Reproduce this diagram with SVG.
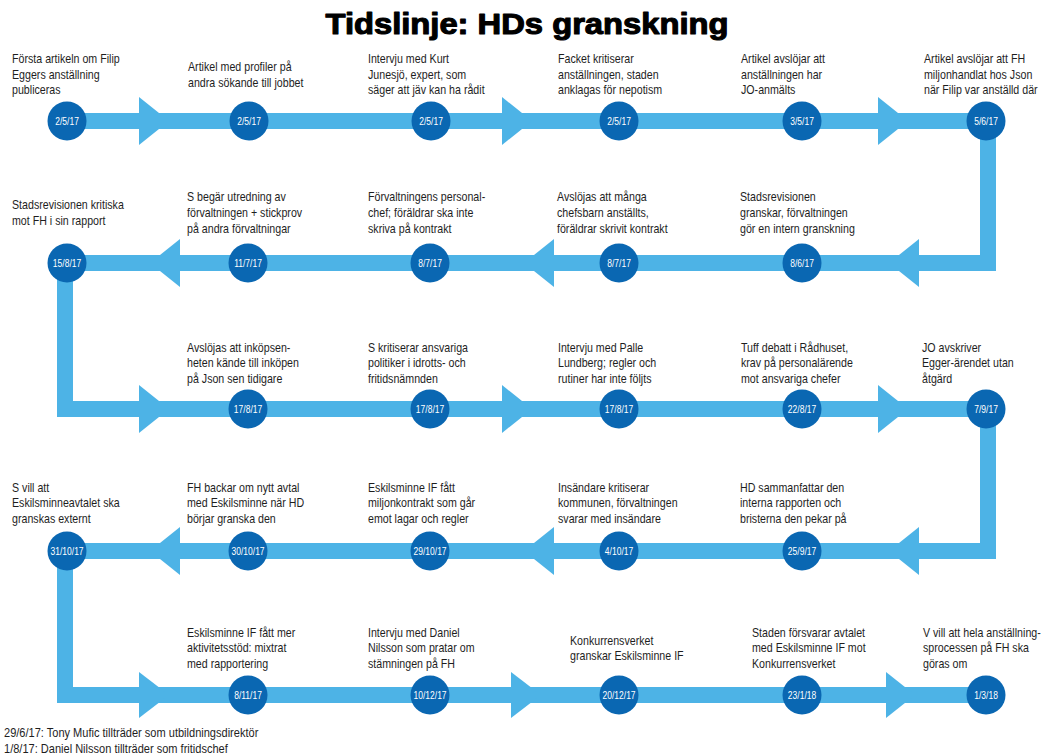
<svg xmlns="http://www.w3.org/2000/svg" width="1046" height="756" viewBox="0 0 1046 756">
<style>
.t{font-family:"Liberation Sans Narrow","Liberation Sans",Arial,sans-serif;font-size:13px;fill:#1e1e1e;transform:scaleX(0.82);transform-box:fill-box;transform-origin:0 0}
.f{font-family:"Liberation Sans",Arial,sans-serif;font-size:13px;fill:#1e1e1e;transform:scaleX(0.85);transform-box:fill-box;transform-origin:0 0}
.d{font-family:"Liberation Sans",Arial,sans-serif;font-size:11.5px;fill:#ffffff;text-anchor:middle;transform:scaleX(0.74);transform-box:fill-box;transform-origin:50% 50%}
.c{fill:#0A67B2}
.band{fill:none;stroke:#4DB3E6;stroke-width:16;stroke-linejoin:miter}
.ah{fill:#4DB3E6}
.title{font-family:"Liberation Sans",Arial,sans-serif;font-weight:900;font-size:29px;fill:#000;stroke:#000;stroke-width:1.1;stroke-linejoin:round;text-anchor:middle}
</style>
<rect width="1046" height="756" fill="#ffffff"/>
<text class="title" x="527" y="34" textLength="403" lengthAdjust="spacingAndGlyphs">Tidslinje: HDs granskning</text>
<g id="connectors">
<path class="band" d="M67,121 H988 V263 H65 V409 H988 V551 H65 V695 H986"/>
<polygon class="ah" points="139,97 169,121 139,145"/>
<polygon class="ah" points="502,97 532,121 502,145"/>
<polygon class="ah" points="878,97 908,121 878,145"/>
<polygon class="ah" points="180,239 150,263 180,287"/>
<polygon class="ah" points="554,239 524,263 554,287"/>
<polygon class="ah" points="919,239 889,263 919,287"/>
<polygon class="ah" points="139,385 169,409 139,433"/>
<polygon class="ah" points="502,385 532,409 502,433"/>
<polygon class="ah" points="878,385 908,409 878,433"/>
<polygon class="ah" points="180,527 150,551 180,575"/>
<polygon class="ah" points="554,527 524,551 554,575"/>
<polygon class="ah" points="919,527 889,551 919,575"/>
<polygon class="ah" points="139,672 169,695 139,718"/>
<polygon class="ah" points="511,672 541,695 511,718"/>
<polygon class="ah" points="886,672 915,695 886,718"/>
</g>
<g id="e01"><circle class="c" cx="67" cy="121" r="19.5"/><text class="d" x="67" y="125">2/5/17</text><text class="t" x="12" y="63.1">Första artikeln om Filip</text><text class="t" x="12" y="78.8">Eggers anställning</text><text class="t" x="12" y="94.5">publiceras</text></g>
<g id="e02"><circle class="c" cx="249" cy="121" r="19.5"/><text class="d" x="249" y="125">2/5/17</text><text class="t" x="188" y="71">Artikel med profiler på</text><text class="t" x="188" y="86.7">andra sökande till jobbet</text></g>
<g id="e03"><circle class="c" cx="431" cy="121" r="19.5"/><text class="d" x="431" y="125">2/5/17</text><text class="t" x="368" y="63.1">Intervju med Kurt</text><text class="t" x="368" y="78.8">Junesjö, expert, som</text><text class="t" x="368" y="94.5">säger att jäv kan ha rådit</text></g>
<g id="e04"><circle class="c" cx="619" cy="121" r="19.5"/><text class="d" x="619" y="125">2/5/17</text><text class="t" x="558" y="63.1">Facket kritiserar</text><text class="t" x="558" y="78.8">anställningen, staden</text><text class="t" x="558" y="94.5">anklagas för nepotism</text></g>
<g id="e05"><circle class="c" cx="802" cy="121" r="19.5"/><text class="d" x="802" y="125">3/5/17</text><text class="t" x="741" y="63.1">Artikel avslöjar att</text><text class="t" x="741" y="78.8">anställningen har</text><text class="t" x="741" y="94.5">JO-anmälts</text></g>
<g id="e06"><circle class="c" cx="986" cy="121" r="19.5"/><text class="d" x="986" y="125">5/6/17</text><text class="t" x="924" y="63.1">Artikel avslöjar att FH</text><text class="t" x="924" y="78.8">miljonhandlat hos Json</text><text class="t" x="924" y="94.5">när Filip var anställd där</text></g>
<g id="e07"><circle class="c" cx="802" cy="263" r="19.5"/><text class="d" x="802" y="267">8/6/17</text><text class="t" x="740" y="201.3">Stadsrevisionen</text><text class="t" x="740" y="217">granskar, förvaltningen</text><text class="t" x="740" y="232.7">gör en intern granskning</text></g>
<g id="e08"><circle class="c" cx="619" cy="263" r="19.5"/><text class="d" x="619" y="267">8/7/17</text><text class="t" x="557" y="201.3">Avslöjas att många</text><text class="t" x="557" y="217">chefsbarn anställts,</text><text class="t" x="557" y="232.7">föräldrar skrivit kontrakt</text></g>
<g id="e09"><circle class="c" cx="430" cy="263" r="19.5"/><text class="d" x="430" y="267">8/7/17</text><text class="t" x="368" y="201.3">Förvaltningens personal-</text><text class="t" x="368" y="217">chef; föräldrar ska inte</text><text class="t" x="368" y="232.7">skriva på kontrakt</text></g>
<g id="e10"><circle class="c" cx="248" cy="263" r="19.5"/><text class="d" x="248" y="267">11/7/17</text><text class="t" x="187" y="201.3">S begär utredning av</text><text class="t" x="187" y="217">förvaltningen + stickprov</text><text class="t" x="187" y="232.7">på andra förvaltningar</text></g>
<g id="e11"><circle class="c" cx="67" cy="263" r="19.5"/><text class="d" x="67" y="267">15/8/17</text><text class="t" x="12" y="209.2">Stadsrevisionen kritiska</text><text class="t" x="12" y="224.9">mot FH i sin rapport</text></g>
<g id="e12"><circle class="c" cx="248" cy="409" r="19.5"/><text class="d" x="248" y="413">17/8/17</text><text class="t" x="187" y="351.8">Avslöjas att inköpsen-</text><text class="t" x="187" y="367.5">heten kände till inköpen</text><text class="t" x="187" y="383.2">på Json sen tidigare</text></g>
<g id="e13"><circle class="c" cx="430" cy="409" r="19.5"/><text class="d" x="430" y="413">17/8/17</text><text class="t" x="368" y="351.8">S kritiserar ansvariga</text><text class="t" x="368" y="367.5">politiker i idrotts- och</text><text class="t" x="368" y="383.2">fritidsnämnden</text></g>
<g id="e14"><circle class="c" cx="619" cy="409" r="19.5"/><text class="d" x="619" y="413">17/8/17</text><text class="t" x="558" y="351.8">Intervju med Palle</text><text class="t" x="558" y="367.5">Lundberg; regler och</text><text class="t" x="558" y="383.2">rutiner har inte följts</text></g>
<g id="e15"><circle class="c" cx="802" cy="409" r="19.5"/><text class="d" x="802" y="413">22/8/17</text><text class="t" x="741" y="351.8">Tuff debatt i Rådhuset,</text><text class="t" x="741" y="367.5">krav på personalärende</text><text class="t" x="741" y="383.2">mot ansvariga chefer</text></g>
<g id="e16"><circle class="c" cx="986" cy="409" r="19.5"/><text class="d" x="986" y="413">7/9/17</text><text class="t" x="922" y="351.8">JO avskriver</text><text class="t" x="922" y="367.5">Egger-ärendet utan</text><text class="t" x="922" y="383.2">åtgärd</text></g>
<g id="e17"><circle class="c" cx="802" cy="551" r="19.5"/><text class="d" x="802" y="555">25/9/17</text><text class="t" x="740" y="491.8">HD sammanfattar den</text><text class="t" x="740" y="507.5">interna rapporten och</text><text class="t" x="740" y="523.2">bristerna den pekar på</text></g>
<g id="e18"><circle class="c" cx="619" cy="551" r="19.5"/><text class="d" x="619" y="555">4/10/17</text><text class="t" x="558" y="491.8">Insändare kritiserar</text><text class="t" x="558" y="507.5">kommunen, förvaltningen</text><text class="t" x="558" y="523.2">svarar med insändare</text></g>
<g id="e19"><circle class="c" cx="430" cy="551" r="19.5"/><text class="d" x="430" y="555">29/10/17</text><text class="t" x="368" y="491.8">Eskilsminne IF fått</text><text class="t" x="368" y="507.5">miljonkontrakt som går</text><text class="t" x="368" y="523.2">emot lagar och regler</text></g>
<g id="e20"><circle class="c" cx="248" cy="551" r="19.5"/><text class="d" x="248" y="555">30/10/17</text><text class="t" x="187" y="491.8">FH backar om nytt avtal</text><text class="t" x="187" y="507.5">med Eskilsminne när HD</text><text class="t" x="187" y="523.2">börjar granska den</text></g>
<g id="e21"><circle class="c" cx="67" cy="551" r="19.5"/><text class="d" x="67" y="555">31/10/17</text><text class="t" x="12" y="491.8">S vill att</text><text class="t" x="12" y="507.5">Eskilsminneavtalet ska</text><text class="t" x="12" y="523.2">granskas externt</text></g>
<g id="e22"><circle class="c" cx="248" cy="695" r="19.5"/><text class="d" x="248" y="699">8/11/17</text><text class="t" x="187" y="636.8">Eskilsminne IF fått mer</text><text class="t" x="187" y="652.5">aktivitetsstöd: mixtrat</text><text class="t" x="187" y="668.2">med rapportering</text></g>
<g id="e23"><circle class="c" cx="430" cy="695" r="19.5"/><text class="d" x="430" y="699">10/12/17</text><text class="t" x="368" y="636.8">Intervju med Daniel</text><text class="t" x="368" y="652.5">Nilsson som pratar om</text><text class="t" x="368" y="668.2">stämningen på FH</text></g>
<g id="e24"><circle class="c" cx="619" cy="695" r="19.5"/><text class="d" x="619" y="699">20/12/17</text><text class="t" x="570" y="644.7">Konkurrensverket</text><text class="t" x="570" y="660.4">granskar Eskilsminne IF</text></g>
<g id="e25"><circle class="c" cx="802" cy="695" r="19.5"/><text class="d" x="802" y="699">23/1/18</text><text class="t" x="752" y="636.8">Staden försvarar avtalet</text><text class="t" x="752" y="652.5">med Eskilsminne IF mot</text><text class="t" x="752" y="668.2">Konkurrensverket</text></g>
<g id="e26"><circle class="c" cx="986" cy="695" r="19.5"/><text class="d" x="986" y="699">1/3/18</text><text class="t" x="923" y="636.8">V vill att hela anställning-</text><text class="t" x="923" y="652.5">sprocessen på FH ska</text><text class="t" x="923" y="668.2">göras om</text></g>
<g id="footer"><text class="f" x="4" y="737.5">29/6/17: Tony Mufic tillträder som utbildningsdirektör</text><text class="f" x="4" y="753.5">1/8/17: Daniel Nilsson tillträder som fritidschef</text></g>
</svg>
